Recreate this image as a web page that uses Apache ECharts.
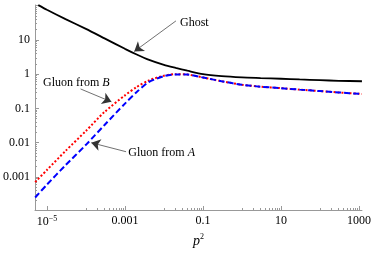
<!DOCTYPE html>
<html><head><meta charset="utf-8">
<script src="https://cdn.jsdelivr.net/npm/echarts@6/dist/echarts.min.js"></script>
<style>html,body{margin:0;padding:0;background:#fff}#c{width:374px;height:255px}</style>
</head><body><div id="c"></div>
<script>
// ---- data ----
const ghostP2 = [6e-6, 1e-5, 3e-5, 1e-4, 3e-4, 1e-3, 2e-3, 4e-3, 0.01, 0.02, 0.04, 0.1, 0.3, 1, 3, 10, 30, 100, 300, 1190];
const ghost   = [104, 76, 40.6, 21, 11.1, 5.5, 3.75, 2.65, 1.86, 1.52, 1.26, 1.0, 0.875, 0.805, 0.77, 0.735, 0.70, 0.668, 0.64, 0.62];

const gluonP2 = [5e-6, 1e-5, 3e-5, 1e-4, 3e-4, 1e-3, 2e-3, 4e-3, 0.01, 0.02, 0.04, 0.1, 0.3, 1, 3, 10, 30, 100, 300, 1190];
const gluonB  = [7.0e-4, 1.58e-3, 5.7e-3, 0.0219, 0.0786, 0.24, 0.42, 0.65, 0.90, 0.995, 0.975, 0.80, 0.62, 0.49, 0.43, 0.39, 0.353, 0.32, 0.292, 0.264];
const gluonA  = [2.48e-4, 5.9e-4, 2.18e-3, 8.6e-3, 0.0327, 0.138, 0.30, 0.58, 0.87, 0.985, 0.975, 0.80, 0.62, 0.49, 0.43, 0.39, 0.353, 0.32, 0.292, 0.264];

const xTickValues = [1e-5, 1e-3, 0.1, 10, 1000];
const xTickLabels = ['10{sup|−5}', '0.001', '0.1', '10', '1000'];
const yTickValues = [0.001, 0.01, 0.1, 1, 10];
const yTickLabels = ['0.001', '0.01', '0.1', '1', '10'];

const xMin = 4.95e-6, xMax = 1190, yMin = 1.07e-4, yMax = 105;

// minor tick values
const xMinor = [];
[-4, -2, 0, 2].forEach(e => { for (let k = 1; k <= 9; k++) xMinor.push(k * Math.pow(10, e)); });
const xMajorAll = [1e-5, 1e-3, 0.1, 10, 1000];
const yMinor = [];
for (let e = -4; e <= 2; e++) for (let k = 2; k <= 9; k++) { const v = k * Math.pow(10, e); if (v >= yMin && v <= yMax) yMinor.push(v); }
const yMajorAll = [1e-4, 1e-3, 1e-2, 0.1, 1, 10, 100].filter(v => v >= yMin && v <= yMax);

const FONT = 'Liberation Serif';
const axisColor = '#999';

function pairs(xs, ys) { return xs.map((x, i) => [x, ys[i]]); }
function labelFor(vals, labels) {
  return function (v) {
    for (let i = 0; i < vals.length; i++) if (Math.abs(Math.log10(v) - Math.log10(vals[i])) < 1e-6) return labels[i];
    return '';
  };
}

const chart = echarts.init(document.getElementById('c'), null, { renderer: 'canvas' });
const arrowStyle = { color: '#333', width: 0.7, type: 'solid' };
chart.setOption({
  animation: false,
  backgroundColor: '#fff',
  grid: { left: 34, right: 12, top: 5, bottom: 45 },
  xAxis: [
    {
      type: 'log', min: xMin, max: xMax, position: 'bottom',
      axisLine: { show: true, lineStyle: { color: axisColor, width: 1 } },
      axisTick: { show: true, inside: true, length: 4, lineStyle: { color: axisColor }, customValues: xMajorAll },
      axisLabel: {
        show: true, customValues: xTickValues, color: '#000', fontFamily: FONT, fontSize: 12, margin: 5,
        formatter: labelFor(xTickValues, xTickLabels),
        rich: { sup: { fontFamily: FONT, fontSize: 8, verticalAlign: 'top', padding: [0, 0, 6, 0] } }
      },
      splitLine: { show: false }, minorTick: { show: false },
      name: '{i|p}{s|2}', nameLocation: 'middle', nameGap: 22,
      nameTextStyle: { rich: {
        i: { fontFamily: FONT, fontStyle: 'italic', fontSize: 14, color: '#000' },
        s: { fontFamily: FONT, fontSize: 8, color: '#000', padding: [0, 0, 8, 0] }
      } }
    },
    {
      type: 'log', min: xMin, max: xMax, position: 'bottom',
      axisLine: { show: false },
      axisTick: { show: true, inside: true, length: 2, lineStyle: { color: axisColor }, customValues: xMinor },
      axisLabel: { show: false, customValues: xMinor },
      splitLine: { show: false }
    }
  ],
  yAxis: [
    {
      type: 'log', min: yMin, max: yMax,
      axisLine: { show: true, lineStyle: { color: axisColor, width: 1 } },
      axisTick: { show: true, inside: true, length: 4, lineStyle: { color: axisColor }, customValues: yMajorAll },
      axisLabel: {
        show: true, customValues: yTickValues, color: '#000', fontFamily: FONT, fontSize: 12, margin: 5,
        formatter: labelFor(yTickValues, yTickLabels)
      },
      splitLine: { show: false }
    },
    {
      type: 'log', min: yMin, max: yMax, position: 'left',
      axisLine: { show: false },
      axisTick: { show: true, inside: true, length: 2, lineStyle: { color: axisColor }, customValues: yMinor },
      axisLabel: { show: false, customValues: yMinor },
      splitLine: { show: false }
    }
  ],
  series: [
    {
      name: 'Ghost', type: 'line', data: pairs(ghostP2, ghost), showSymbol: false, smooth: 0.25,
      lineStyle: { color: '#000', width: 1.8 }, z: 3,
      markLine: {
        silent: true, symbol: ['none', 'arrow'], symbolSize: 9, label: { show: false },
        lineStyle: arrowStyle, itemStyle: { color: '#000' }, animation: false,
        data: [
          [{ coord: [0.0203, 36] }, { coord: [1.73e-3, 4.6] }],
          [{ coord: [7.3e-5, 0.369] }, { coord: [4.5e-4, 0.155] }],
          [{ coord: [1.07e-3, 5.4e-3] }, { coord: [1.37e-4, 9.9e-3] }]
        ]
      },
      markPoint: {
        silent: true, symbol: 'circle', symbolSize: 0.1,
        itemStyle: { color: 'rgba(0,0,0,0)' },
        label: {
          show: true, position: 'right', distance: 0, color: '#000', fontFamily: FONT, fontSize: 12,
          rich: { it: { fontFamily: FONT, fontStyle: 'italic', fontSize: 12, color: '#000' } }
        },
        data: [
          { coord: [0.0257, 31.4], label: { formatter: 'Ghost' } },
          { coord: [7.9e-6, 0.571], label: { formatter: 'Gluon from {it|B}' } },
          { coord: [1.22e-3, 4.97e-3], label: { formatter: 'Gluon from {it|A}' } }
        ]
      }
    },
    {
      name: 'Gluon from B', type: 'line', data: pairs(gluonP2, gluonB), showSymbol: false, smooth: 0.25,
      lineStyle: { color: '#ff0000', width: 2, type: [2, 2] }, z: 2
    },
    {
      name: 'Gluon from A', type: 'line', data: pairs(gluonP2, gluonA), showSymbol: false, smooth: 0.25,
      lineStyle: { color: '#0000ff', width: 2, type: [6, 3] }, z: 2.5
    }
  ]
});
</script></body></html>
